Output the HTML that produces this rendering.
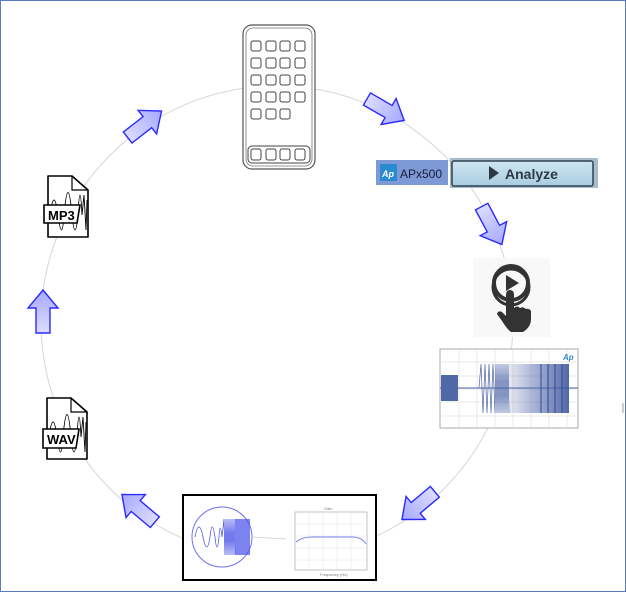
<!DOCTYPE html>
<html><head><meta charset="utf-8"><style>
html,body{margin:0;padding:0;background:#fff;}
body{width:626px;height:592px;overflow:hidden;position:relative;font-family:"Liberation Sans",sans-serif;}
</style></head><body>
<svg width="626" height="592" viewBox="0 0 626 592" xmlns="http://www.w3.org/2000/svg" style="position:absolute;left:0;top:0">
<defs>
<linearGradient id="ag" x1="0" y1="0" x2="1" y2="0"><stop offset="0" stop-color="#dcdcff"/><stop offset="1" stop-color="#a6a9ff"/></linearGradient>
<polygon id="arr" points="-22,-7 3,-7 3,-15 21,0 3,15 3,7 -22,7" fill="url(#ag)" stroke="#2a2aff" stroke-width="1.4"/>
<linearGradient id="btn" x1="0" y1="0" x2="0" y2="1"><stop offset="0" stop-color="#cfe6f2"/><stop offset="1" stop-color="#a9cde0"/></linearGradient>
<linearGradient id="wv" x1="0" y1="0" x2="1" y2="0"><stop offset="0" stop-color="#5a70b0" stop-opacity="0.15"/><stop offset="0.5" stop-color="#5a70b0" stop-opacity="0.6"/><stop offset="1" stop-color="#3f57a0" stop-opacity="0.9"/></linearGradient>
</defs>
<rect x="0.5" y="0.5" width="625" height="591" fill="none" stroke="#5b7bbf" stroke-width="1"/>
<circle cx="277" cy="322" r="236" fill="none" stroke="#d6d6d6" stroke-width="1"/>

<!-- phone -->
<rect x="243" y="25" width="72" height="144" rx="9" fill="#fff" stroke="#555" stroke-width="1.2"/>
<rect x="246" y="28" width="66" height="138" rx="7" fill="none" stroke="#777" stroke-width="0.8"/>
<g fill="none" stroke="#444" stroke-width="1">
<rect x="251" y="41" width="10" height="10" rx="2"/><rect x="266" y="41" width="10" height="10" rx="2"/><rect x="280" y="41" width="10" height="10" rx="2"/><rect x="295" y="41" width="10" height="10" rx="2"/>
<rect x="251" y="58" width="10" height="10" rx="2"/><rect x="266" y="58" width="10" height="10" rx="2"/><rect x="280" y="58" width="10" height="10" rx="2"/><rect x="295" y="58" width="10" height="10" rx="2"/>
<rect x="251" y="75" width="10" height="10" rx="2"/><rect x="266" y="75" width="10" height="10" rx="2"/><rect x="280" y="75" width="10" height="10" rx="2"/><rect x="295" y="75" width="10" height="10" rx="2"/>
<rect x="251" y="92" width="10" height="10" rx="2"/><rect x="266" y="92" width="10" height="10" rx="2"/><rect x="280" y="92" width="10" height="10" rx="2"/><rect x="295" y="92" width="10" height="10" rx="2"/>
<rect x="251" y="109" width="10" height="10" rx="2"/><rect x="266" y="109" width="10" height="10" rx="2"/><rect x="280" y="109" width="10" height="10" rx="2"/>
<rect x="248" y="146" width="62" height="17" rx="4"/>
<rect x="251" y="149" width="10" height="11" rx="2"/><rect x="266" y="149" width="10" height="11" rx="2"/><rect x="280" y="149" width="10" height="11" rx="2"/><rect x="295" y="149" width="10" height="11" rx="2"/>
</g>

<!-- MP3 file -->
<g transform="translate(42,175)">
<path d="M6,1 H30 L46,15 V62 H6 Z" fill="#fff" stroke="#000" stroke-width="1.6" stroke-linejoin="round"/>
<path d="M30,1 V15 H46" fill="none" stroke="#000" stroke-width="1.2"/>
<path d="M8,40 Q12,10 16,40 T22,40 Q26,-5 30,40 Q33,70 36,40 Q38,0 40,40 L42,20 L44,55 L45,25" fill="none" stroke="#000" stroke-width="0.9"/>
<path d="M2,30 H38 L35,48 H2 Z" fill="#fff" stroke="#000" stroke-width="1.6"/>
<text x="6" y="45" font-size="13" font-weight="bold" font-family="Liberation Sans,sans-serif">MP3</text>
</g>
<!-- WAV file -->
<g transform="translate(41,397)">
<path d="M6,1 H30 L46,15 V62 H6 Z" fill="#fff" stroke="#000" stroke-width="1.6" stroke-linejoin="round"/>
<path d="M30,1 V15 H46" fill="none" stroke="#000" stroke-width="1.2"/>
<path d="M8,40 Q12,10 16,40 T22,40 Q26,-5 30,40 Q33,70 36,40 Q38,0 40,40 L42,20 L44,55 L45,25" fill="none" stroke="#000" stroke-width="0.9"/>
<path d="M2,32 H38 L35,51 H2 Z" fill="#fff" stroke="#000" stroke-width="1.6"/>
<text x="6" y="47" font-size="13" font-weight="bold" font-family="Liberation Sans,sans-serif">WAV</text>
</g>

<!-- APx500 buttons -->
<rect x="376" y="160" width="72" height="25" fill="#7d9ad6"/>
<rect x="380" y="164" width="17" height="17" fill="#2a8ad0"/>
<text x="382" y="177" font-size="9" fill="#fff" font-style="italic" font-weight="bold">Ap</text>
<text x="400" y="178" font-size="12" fill="#1a1a3a">APx500</text>
<rect x="450" y="158" width="148" height="30" fill="#a7bccb"/>
<rect x="452" y="161" width="141" height="25" rx="2" fill="url(#btn)" stroke="#2e4250" stroke-width="1.5"/>
<polygon points="489,166 489,180 499,173" fill="#2b3a45"/>
<text x="505" y="179" font-size="14" font-weight="bold" fill="#2b3a45">Analyze</text>

<!-- play hand -->
<rect x="473" y="258" width="77" height="79" fill="#f8f8f8"/>
<circle cx="511" cy="283" r="17" fill="none" stroke="#333" stroke-width="4"/>
<circle cx="511" cy="287" r="18" fill="none" stroke="#333" stroke-width="3"/>
<polygon points="506,275 506,291 519,283" fill="#333"/>
<path d="M506,295 q0,-5 4,-5 q4,0 4,5 v13 q3,-3 6,0 q3,-2 6,1 q3,-1 5,2 v8 q0,8 -8,13 h-12 q-4,-3 -9,-11 l-5,-7 q1,-4 5,-2 l4,4 z" fill="#333"/>

<!-- waveform panel -->
<rect x="440" y="349" width="138" height="79" fill="#fff" stroke="#aaa" stroke-width="1"/>
<g stroke="#e2e2e2" stroke-width="0.7">
<line x1="440" y1="362" x2="578" y2="362"/><line x1="440" y1="376" x2="578" y2="376"/><line x1="440" y1="389" x2="578" y2="389"/><line x1="440" y1="402" x2="578" y2="402"/><line x1="440" y1="416" x2="578" y2="416"/>
<line x1="459" y1="349" x2="459" y2="428"/><line x1="477" y1="349" x2="477" y2="428"/><line x1="495" y1="349" x2="495" y2="428"/><line x1="513" y1="349" x2="513" y2="428"/><line x1="531" y1="349" x2="531" y2="428"/><line x1="549" y1="349" x2="549" y2="428"/><line x1="567" y1="349" x2="567" y2="428"/>
</g>
<line x1="440" y1="388" x2="578" y2="388" stroke="#4a5fa0" stroke-width="1"/>
<rect x="441" y="375" width="17" height="26" fill="#5067a8"/>
<path d="M479,388 L481,364 L483,413 L485,364 L487,413 L489,364 L491,413 L493,364 L495,413 L496,364 L497,413 L498,364 L499,413 L500,364 L501,413 L502,364 L503,413 L504,364 L505,413 L506,364 L507,413 L508,364 L509,413" fill="none" stroke="#5067a8" stroke-width="0.7"/>
<rect x="509" y="364" width="60" height="49" fill="url(#wv)"/>
<g stroke="#2f4794" stroke-width="1"><line x1="541" y1="364" x2="541" y2="413"/><line x1="548" y1="364" x2="548" y2="413"/><line x1="555" y1="364" x2="555" y2="413"/><line x1="562" y1="364" x2="562" y2="413"/></g>
<text x="563" y="360" font-size="8" fill="#2a8ad0" font-style="italic" font-weight="bold">Ap</text>

<!-- bottom box -->
<rect x="183" y="495" width="193" height="85" fill="#fff" stroke="#000" stroke-width="2"/>
<circle cx="222" cy="537" r="30" fill="none" stroke="#6c72f0" stroke-width="1"/>
<path d="M195,537 Q199,517 203,537 Q207,557 210,537 Q212,517 215,537 Q217,557 219,537 Q220,519 222,537 L224,519 L225,555 L226,519 L227,555 L228,519 L229,555 L230,519 L231,555 L232,519 L233,555 L234,519 L235,555" fill="none" stroke="#5058e8" stroke-width="0.8"/>
<rect x="235" y="519" width="15" height="36" fill="#5058e8" opacity="0.75"/>
<line x1="252" y1="537" x2="286" y2="539" stroke="#ccc" stroke-width="0.8"/>
<rect x="295" y="512" width="72" height="58" fill="#fff" stroke="#999" stroke-width="0.6"/>
<g stroke="#e4e4e4" stroke-width="0.5">
<line x1="295" y1="524" x2="367" y2="524"/><line x1="295" y1="536" x2="367" y2="536"/><line x1="295" y1="548" x2="367" y2="548"/><line x1="295" y1="560" x2="367" y2="560"/>
<line x1="309" y1="512" x2="309" y2="570"/><line x1="323" y1="512" x2="323" y2="570"/><line x1="337" y1="512" x2="337" y2="570"/><line x1="351" y1="512" x2="351" y2="570"/>
</g>
<path d="M296,542 Q302,537 312,537 H352 Q362,537 366,544" fill="none" stroke="#7a80f0" stroke-width="1"/>
<text x="324" y="510" font-size="4" fill="#777">Gain</text>
<text x="320" y="576" font-size="4" fill="#777">Frequency (Hz)</text>

<!-- arrows -->
<use href="#arr" transform="translate(145,124) rotate(-38)"/>
<use href="#arr" transform="translate(386,110) rotate(30)"/>
<use href="#arr" transform="translate(492,226) rotate(62)"/>
<use href="#arr" transform="translate(418,506) rotate(140)"/>
<use href="#arr" transform="translate(138,508) rotate(-140)"/>
<use href="#arr" transform="translate(43,311) rotate(-90)"/>

<line x1="623" y1="403" x2="623" y2="413" stroke="#999" stroke-width="1"/>
</svg>
</body></html>
